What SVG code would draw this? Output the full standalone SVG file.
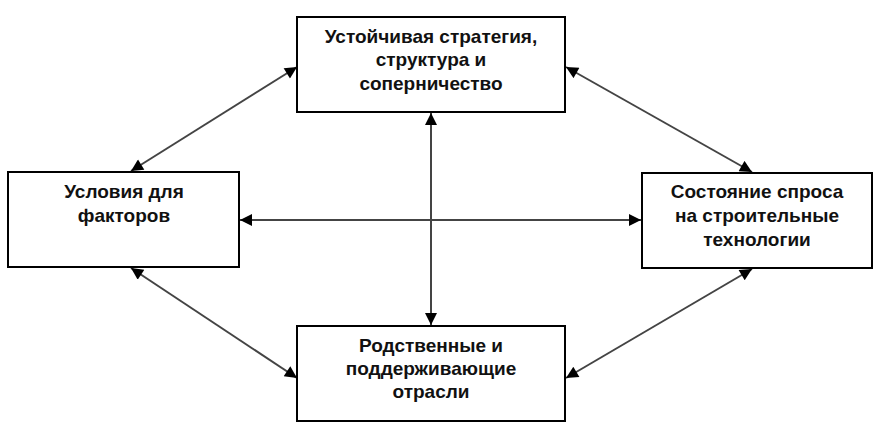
<svg xmlns="http://www.w3.org/2000/svg" width="882" height="432" viewBox="0 0 882 432">
<style>
.box{fill:#fff;stroke:#000;stroke-width:2}
.t{font-family:"Liberation Sans",Arial,sans-serif;font-size:19px;font-weight:bold;fill:#111;text-anchor:middle}
.c{stroke:#444;stroke-width:2;fill:none;marker-start:url(#a);marker-end:url(#a)}
</style>
<defs>
<marker id="a" viewBox="0 0 10 10" refX="10" refY="5" markerWidth="14" markerHeight="12" markerUnits="userSpaceOnUse" orient="auto-start-reverse">
<path d="M0,0 L10,5 L0,10 z" fill="#000"/>
</marker>
</defs>
<rect width="882" height="432" fill="#fff"/>
<g id="connectors">
<line class="c" x1="131" y1="171" x2="297" y2="67"/>
<line class="c" x1="752" y1="172" x2="566" y2="67"/>
<line class="c" x1="131" y1="268" x2="297" y2="378"/>
<line class="c" x1="752" y1="269" x2="566" y2="378"/>
<line class="c" x1="431" y1="113" x2="431" y2="325"/>
<line class="c" x1="240" y1="220" x2="641" y2="220"/>
</g>
<g id="n_top">
<rect class="box" x="297" y="17" width="268" height="95"/>
<text class="t" x="431" y="43">Устойчивая стратегия,</text>
<text class="t" x="431" y="66">структура и</text>
<text class="t" x="431" y="90">соперничество</text>
</g>
<g id="n_left">
<rect class="box" x="8" y="172" width="231" height="95"/>
<text class="t" x="124" y="198">Условия для</text>
<text class="t" x="124" y="222">факторов</text>
</g>
<g id="n_right">
<rect class="box" x="642" y="173" width="230" height="95"/>
<text class="t" x="757" y="198">Состояние спроса</text>
<text class="t" x="757" y="222">на строительные</text>
<text class="t" x="757" y="246">технологии</text>
</g>
<g id="n_bottom">
<rect class="box" x="297" y="326" width="268" height="95"/>
<text class="t" x="431" y="352">Родственные и</text>
<text class="t" x="431" y="375">поддерживающие</text>
<text class="t" x="431" y="398">отрасли</text>
</g>
</svg>
